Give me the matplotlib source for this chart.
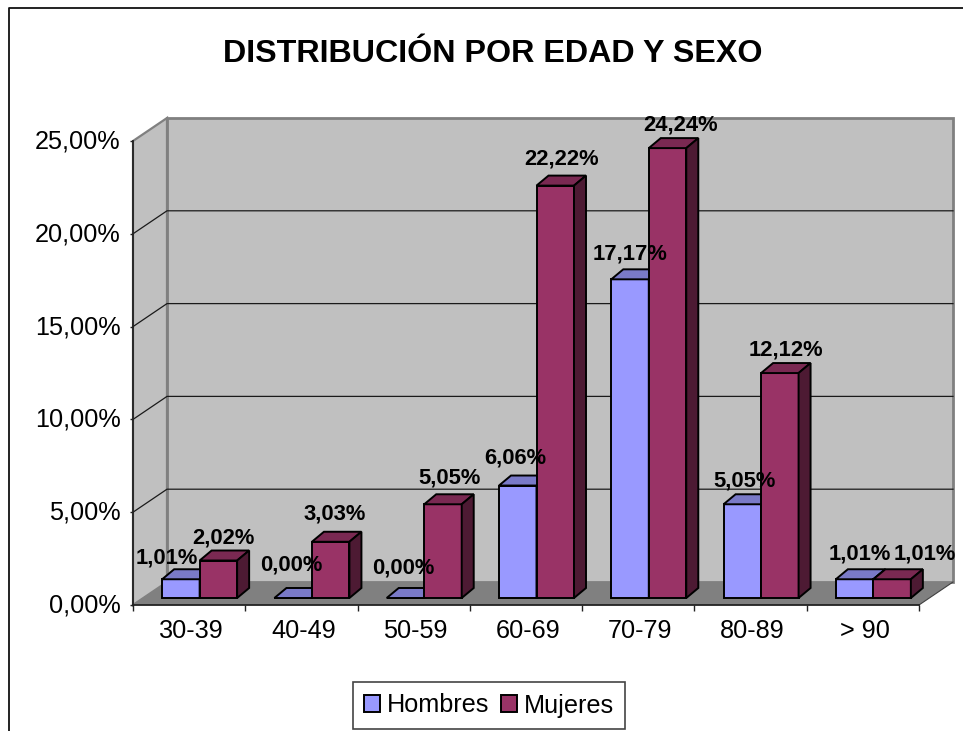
import matplotlib
matplotlib.use("Agg")
import matplotlib.pyplot as plt
from matplotlib.patches import Polygon, Patch
from matplotlib.lines import Line2D
from matplotlib.transforms import ScaledTranslation

plt.rcParams['font.family'] = ['Liberation Sans', 'DejaVu Sans']

title = "DISTRIBUCIÓN POR EDAD Y SEXO"
categories = ["30-39", "40-49", "50-59", "60-69", "70-79", "80-89", "> 90"]
hombres = [1.01, 0.00, 0.00, 6.06, 17.17, 5.05, 1.01]
mujeres = [2.02, 3.03, 5.05, 22.22, 24.24, 12.12, 1.01]
y_ticks = [0, 5, 10, 15, 20, 25]

# label nudges in pixels from the bar's front-top-centre (style, not data)
h_nudge = [(-14, 21), (-2, 33), (-2, 30), (-2, 28), (0, 25), (2, 23), (5, 25)]
m_nudge = [(5, 23), (4, 28), (7, 26), (6, 27), (13, 23), (6, 23), (33, 25)]

W, H = 963, 731
fig = plt.figure(figsize=(W / 100, H / 100), dpi=100, facecolor="white")
L, R, T, B = 133, 919, 141, 605
ax = fig.add_axes([L / W, 1 - B / H, (R - L) / W, (B - T) / H])
ax.set_xlim(0, len(categories))
ax.set_ylim(0, 25)
ax.patch.set_visible(False)

sx = (R - L) / len(categories)
sy = (B - T) / 25
wx, wy = 34 / sx, 23 / sy        # depth of the walls
ox, oy = 10.5 / sx, 7 / sy       # where bars stand on the floor
dx, dy = 12 / sx, 10 / sy        # depth of each bar
bw = 37.5 / sx
n = len(categories)
top = y_ticks[-1]

WALL, FLOOR, EDGE = "#c0c0c0", "#808080", "#808080"
ax.add_patch(Polygon([(wx, wy), (n + wx, wy), (n + wx, top + wy), (wx, top + wy)],
                     closed=True, fc=WALL, ec=EDGE, lw=2.0, clip_on=False, zorder=1))
ax.add_patch(Polygon([(0, 0), (wx, wy), (wx, top + wy), (0, top)],
                     closed=True, fc=WALL, ec=EDGE, lw=1.6, clip_on=False, zorder=1))
ax.add_patch(Polygon([(0, 0), (n, 0), (n + wx, wy), (wx, wy)],
                     closed=True, fc=FLOOR, ec="none", clip_on=False, zorder=1.1))
ax.plot([n, n + wx], [0, wy], color="#404040", lw=0.8, clip_on=False, zorder=1.2)

for v in y_ticks[1:-1]:
    ax.plot([0, wx, n + wx], [v, v + wy, v + wy], color="#1a1a1a", lw=0.9,
            clip_on=False, zorder=1.2)

def draw_series(vals, offset, front, top_c, side):
    xs = [i + 0.5 + ox + offset for i in range(n)]
    ax.bar(xs, vals, bw, bottom=oy, color=front, edgecolor="black", lw=1.4,
           zorder=3, clip_on=False)
    for x, v in zip(xs, vals):
        x0, x1 = x - bw / 2, x + bw / 2
        yt = v + oy
        ax.add_patch(Polygon([(x0, yt), (x1, yt), (x1 + dx, yt + dy), (x0 + dx, yt + dy)],
                             closed=True, fc=top_c, ec="black", lw=1.4, clip_on=False, zorder=3))
        if v > 0:
            ax.add_patch(Polygon([(x1, oy), (x1 + dx, oy + dy), (x1 + dx, yt + dy), (x1, yt)],
                                 closed=True, fc=side, ec="black", lw=1.4, clip_on=False, zorder=3))
    return xs

# drawn left to right so the Mujeres bar covers the Hombres side
xs_h = draw_series(hombres, -bw / 2, "#9999ff", "#7a7ac8", "#4d4d80")
xs_m = draw_series(mujeres, bw / 2, "#993366", "#7a2952", "#4d1a33")

for xs, vals, nudges in ((xs_h, hombres, h_nudge), (xs_m, mujeres, m_nudge)):
    for x, v, (nx, ny) in zip(xs, vals, nudges):
        ax.annotate(f"{v:.2f}%".replace(".", ","), (x, v + oy),
                    xytext=(nx * 0.72, ny * 0.72), textcoords="offset points",
                    ha="center", va="center", fontsize=15.8, fontweight="bold",
                    color="black", zorder=6, annotation_clip=False)

for s in ("top", "right"):
    ax.spines[s].set_visible(False)
for s in ("left", "bottom"):
    ax.spines[s].set_color("#222222")
    ax.spines[s].set_linewidth(1.3)
    ax.spines[s].set_zorder(2)

ax.set_yticks(y_ticks)
ax.set_yticklabels([f"{v:.2f}%".replace(".", ",") for v in y_ticks], fontsize=18.2)
ax.tick_params(axis="y", length=2.5, width=1, pad=6.5, color="#222222", labelcolor="black")
up = ScaledTranslation(0, 1.5 / 72, fig.dpi_scale_trans)
for lab in ax.get_yticklabels():
    lab.set_transform(lab.get_transform() + up)
ax.set_xticks(range(n + 1))
ax.set_xticklabels([])
ax.tick_params(axis="x", which="major", length=4.5, width=1, color="#222222")
ax.set_xticks([i + 0.5 + 2 / sx for i in range(n)], minor=True)
ax.set_xticklabels(categories, minor=True, fontsize=18.2)
ax.tick_params(axis="x", which="minor", length=0, pad=10)

fig.text(493 / W, 1 - 53.5 / H, title, ha="center", va="center",
         fontsize=23.2, fontweight="bold", color="black")

# chart-area border, cut off by the image on the right and bottom
fig.add_artist(Line2D([8.5 / W, 8.5 / W, 1], [0, 1 - 8 / H, 1 - 8 / H],
                      color="#111111", lw=1.3))

handles = [Patch(fc="#9999ff", ec="black", lw=1.4, label="Hombres"),
           Patch(fc="#993366", ec="black", lw=1.4, label="Mujeres")]
leg = fig.legend(handles=handles, loc="center", bbox_to_anchor=(489 / W, 1 - 705.5 / H),
                 ncol=2, fontsize=18.2, fancybox=False, framealpha=1, edgecolor="#444444",
                 handlelength=0.62, handleheight=0.62, handletextpad=0.25,
                 columnspacing=0.5, borderpad=0.45, borderaxespad=0)
leg.get_frame().set_linewidth(1.2)

fig.savefig("out.png", dpi=100)
